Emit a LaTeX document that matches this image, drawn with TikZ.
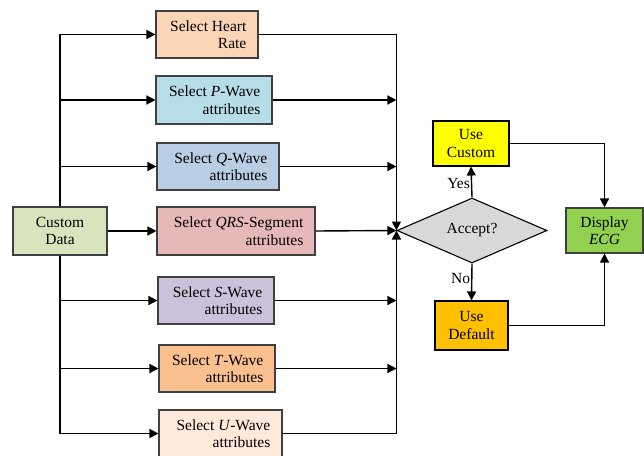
\documentclass[tikz,border=0pt]{standalone}
\usepackage{fontspec}
\setmainfont{Liberation Serif}
\usetikzlibrary{shapes.geometric,arrows.meta}
\definecolor{chr}{HTML}{FBD5B5}
\definecolor{cpw}{HTML}{B7DEE8}
\definecolor{cqw}{HTML}{B9CDE5}
\definecolor{ccd}{HTML}{D7E4BD}
\definecolor{cqrs}{HTML}{E6B9B8}
\definecolor{csw}{HTML}{CCC1DA}
\definecolor{ctw}{HTML}{FAC090}
\definecolor{cuw}{HTML}{FDEADA}
\definecolor{cuc}{HTML}{FFFF00}
\definecolor{cdia}{HTML}{D9D9D9}
\definecolor{cud}{HTML}{FFC000}
\definecolor{cde}{HTML}{92D050}
\definecolor{bord}{HTML}{404040}
\begin{document}
\begin{tikzpicture}[x=1pt,y=-1pt,
  font=\fontsize{15.5}{17.5}\selectfont,
  basebox/.style={draw=bord,line width=1.1pt,inner sep=0pt},
  lbox/.style={basebox,label={[align=right,anchor=east,xshift=-12pt,inner sep=0pt]east:#1}},
  cbox/.style={basebox,align=center},
  conn/.style={line width=1.4pt,black},
  arr/.style={conn,-{Triangle[length=9pt,width=9pt]}},
  lab/.style={inner sep=1pt}]
\useasboundingbox (0,0) rectangle (644,455);
% left boxes
\node[lbox={Select Heart\\Rate},fill=chr,minimum width=102pt,minimum height=47pt] (hr) at (207,34.5) {};
\node[lbox={Select \textit{P}-Wave\\attributes},fill=cpw,minimum width=116pt,minimum height=48pt] (pw) at (214,100) {};
\node[lbox={Select \textit{Q}-Wave\\attributes},fill=cqw,minimum width=122pt,minimum height=47pt] (qw) at (218,166.5) {};
\node[lbox={Select \textit{QRS}-Segment\\attributes},fill=cqrs,minimum width=158pt,minimum height=48pt] (qrs) at (236,231) {};
\node[lbox={Select \textit{S}-Wave\\attributes},fill=csw,minimum width=116pt,minimum height=47pt] (sw) at (216,300.5) {};
\node[lbox={Select \textit{T}-Wave\\attributes},fill=ctw,minimum width=116pt,minimum height=47pt] (tw) at (217,368.5) {};
\node[lbox={Select \textit{U}-Wave\\attributes},fill=cuw,minimum width=123pt,minimum height=47pt] (uw) at (220.5,433.5) {};
\node[cbox,fill=ccd,minimum width=94pt,minimum height=48pt] (cd) at (60,231) {Custom\\Data};
% right part
\node[draw=black,line width=1.1pt,fill=cdia,shape=diamond,aspect=2.3,minimum width=150pt,minimum height=65pt,inner sep=0pt] (dia) at (472,230.5) {Accept?};
\node[cbox,fill=cuc,minimum width=76pt,minimum height=45pt,draw=black] (uc) at (471,143.5) {Use\\Custom};
\node[cbox,fill=cud,minimum width=73pt,minimum height=49pt,draw=black] (ud) at (471.5,325.5) {Use\\Default};
\node[cbox,fill=cde,minimum width=77pt,minimum height=45pt] (de) at (604.5,230.5) {Display\\\textit{ECG}};
% left connectors
\draw[arr] (cd.north) |- (hr.west);
\draw[arr] (cd.north) |- (pw.west);
\draw[arr] (cd.north) |- (qw.west);
\draw[arr] (cd.east) -- (qrs.west);
\draw[arr] (cd.south) |- (sw.west);
\draw[arr] (cd.south) |- (tw.west);
\draw[arr] (cd.south) |- (uw.west);
% right connectors
\draw[arr] (hr.east) -| (dia.west);
\draw[arr] (uw.east) -| (dia.west);
\draw[arr] (pw.east) -- (pw.east -| dia.west);
\draw[arr] (qw.east) -- (qw.east -| dia.west);
\draw[arr] (qrs.east) -- (dia.west);
\draw[arr] (sw.east) -- (sw.east -| dia.west);
\draw[arr] (tw.east) -- (tw.east -| dia.west);
% decision
\draw[arr] (dia.north) -- node[lab,left,pos=0.45] {Yes} (uc.south);
\draw[arr] (dia.south) -- node[lab,left,pos=0.4] {No} (ud.north);
\draw[arr] (uc.east) -| (de.north);
\draw[arr] (ud.east) -| (de.south);
\end{tikzpicture}
\end{document}
